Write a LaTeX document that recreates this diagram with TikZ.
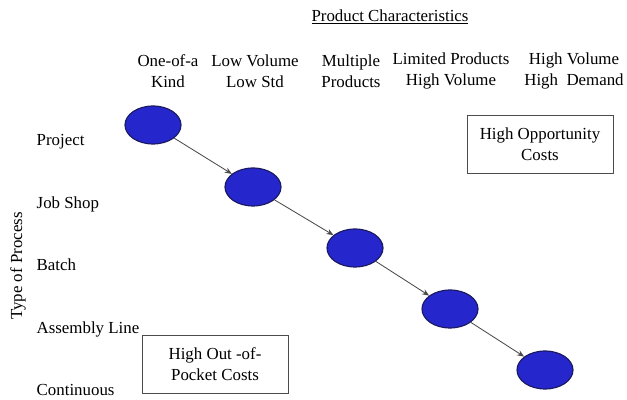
\documentclass[tikz,border=0pt]{standalone}
\usepackage{fontspec}
\setmainfont{Liberation Serif}
\usetikzlibrary{shapes.geometric, arrows.meta, positioning}
\definecolor{procfill}{RGB}{38,38,205}
\definecolor{procedge}{RGB}{25,25,95}
\definecolor{flowline}{RGB}{75,75,75}

\begin{document}
\begin{tikzpicture}[
    x=0.025cm, y=-0.025cm,
    every node/.style={font=\fontsize{12}{15}\selectfont, inner sep=1pt},
    procnode/.style={ellipse, draw=procedge, line width=0.8pt, fill=procfill,
                     minimum width=1.4cm, minimum height=0.95cm, inner sep=0pt},
    flow/.style={-{Stealth[length=5pt,width=4pt]}, line width=0.6pt,
                 color=flowline},
    rowlabel/.style={anchor=base west},
    colhead/.style={align=center},
    costbox/.style={rectangle, draw=black!70, line width=0.6pt, align=center,
                    minimum width=3.65cm, minimum height=1.45cm},
]
\useasboundingbox (0,0) rectangle (627,400);

% ======================================================
% Top: product characteristics (columns)
% ======================================================
\node (title) at (390,17) {\underline{Product Characteristics}};
\foreach \x/\txt [count=\i] in
  {168/{One-of-a\\Kind}, 255/{Low Volume\\Low Std},
   351/{Multiple\\Products}, 451/{Limited Products\\High Volume},
   574/{High Volume\\High~~Demand}} {
    \node[colhead] (col\i) at (\x,71) {\txt};
}

% ======================================================
% Left: type of process (rows)
% ======================================================
\node[rotate=90] (axis) at (18,266) {Type of Process};
\foreach \lab/\y [count=\i] in
  {Project/146, Job Shop/209, Batch/271, Assembly Line/334, Continuous/396} {
    \node[rowlabel] (row\i) at (35,\y) {\lab};
}

% ======================================================
% Diagonal: process positions and flow between them
% ======================================================
\foreach \x/\y [count=\i] in
  {153/125, 253/187, 355/248, 450/309, 545/370} {
    \node[procnode] (proc\i) at (\x,\y) {};
}
\foreach \a/\b in {1/2, 2/3, 3/4, 4/5} {
    \draw[flow] (proc\a) -- (proc\b);
}

% Cost callouts
\node[costbox] (oppcost) at (540,144) {High Opportunity\\Costs};
\node[costbox] (pocketcost) at (215,364) {High Out -of-\\Pocket Costs};

\end{tikzpicture}
\end{document}
